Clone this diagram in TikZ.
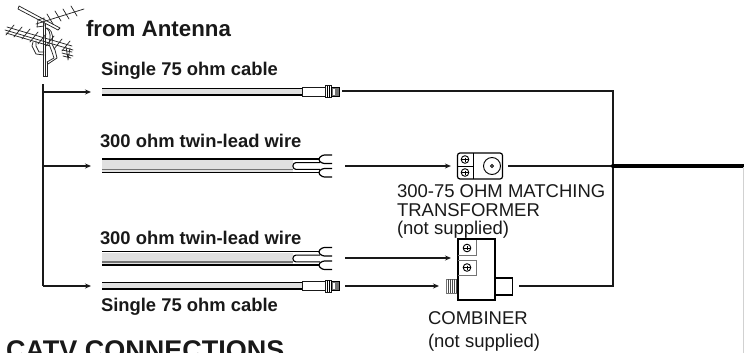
\documentclass[tikz,border=0pt]{standalone}
\usepackage{fontspec}
\setmainfont{Liberation Sans}
\usetikzlibrary{arrows.meta}
\newcommand{\fsize}[1]{\fontsize{#1}{#1}\selectfont}
\tikzset{
  x=1pt,y=-1pt,
  wire/.style={line width=1.3pt,line join=miter,black!90},
  arrowline/.style={wire,-{Stealth[length=6pt,width=5pt]}},
  lbl/.style={anchor=base west,inner sep=0pt,outer sep=0pt,text=black!90},
  ant/.style={line width=.75pt,black!85,line cap=round},
  box/.style={draw=black,line width=1.2pt,fill=white},
  pics/coaxial/.style={code={
    \fill[black!12] (0,-3) rectangle (200,3);
    \draw[line width=1pt,black] (0,-3.2) -- (200,-3.2);
    \draw[line width=2pt,black] (0,3) -- (200,3);
    \draw[line width=1pt,black!90,fill=white] (200,-4.5) rectangle (223,4.5);
    \draw[line width=.9pt,black!90,fill=white] (223,-6) rectangle (229,6);
    \draw[line width=.5pt] (225,-6) -- (225,6) (227,-6) -- (227,6);
    \draw[line width=1pt,black,fill=black!55] (229,-4.5) rectangle (237,4.5);
    \fill[white] (231,-3) rectangle (233,3);
  }},
  pics/twinlead/.style={code={
    \fill[black!12] (0,-6) rectangle (191,6);
    \draw[line width=1.2pt,black] (0,-7) -- (217,-7);
    \draw[line width=1.8pt,black!55] (0,3.4) -- (191,3.4);
    \draw[line width=1.8pt,black] (0,6.5) -- (217,6.5);
    \draw[line width=1.1pt,black,fill=white,rounded corners=3pt] (218,-3.4) -- (191,-3.4) -- (191,3.4) -- (218,3.4);
    \draw[line width=1.2pt,black,rounded corners=2.5pt] (230,-11) -- (220,-11) -- (216,-6.5) -- (220,-2.5) -- (230,-2.5);
    \draw[line width=1.2pt,black,rounded corners=2.5pt] (230,2.5) -- (220,2.5) -- (216,6.5) -- (220,11) -- (230,11);
  }},
  pics/screw/.style={code={
    \draw[line width=.9pt,black,fill=white] (0,0) circle (3.8);
    \draw[line width=.9pt,black] (-3.8,0) -- (3.8,0) (0,-2) -- (0,2);
  }},
}
\begin{document}
\begin{tikzpicture}
\useasboundingbox (0,0) rectangle (744,353);
\clip (0,0) rectangle (744,353);
\coordinate (trunkTop) at (43,84);
\coordinate (j1) at (43,92);
\coordinate (j2) at (43,166);
\coordinate (j4) at (43,286);
\coordinate (a1) at (91,92);
\coordinate (a2) at (91,166);
\coordinate (a4) at (91,286);
\coordinate (c1) at (342,91);
\coordinate (bus1) at (613,91);
\coordinate (busMid) at (613,166);
\coordinate (bus2) at (613,286);
\coordinate (t2s) at (345,166);
\coordinate (t3s) at (345,258);
\coordinate (t3e) at (451,258);
\coordinate (t4s) at (345,286);
\coordinate (t4e) at (439,286);
\coordinate (x2s) at (508,166);
\coordinate (c2s) at (519,286);
\coordinate (tvEnd) at (744,166);
\coordinate (edgeTop) at (743,167);
\coordinate (edgeBot) at (743,353);

% antenna
\draw[ant,line width=1pt,fill=white] (43,23) -- (43,76) -- (47,76) -- (47,62);
\draw[ant,line width=1pt] (45.5,24) -- (45.5,76);
\draw[ant] (19,6) -- (60,28) (18,9) -- (58,30) (19,6) -- (18,9) (60,28) -- (58,30);
\draw[ant] (36,24) -- (84,9);
\foreach \x/\y in {50/19,58/16,66/14,74/11}{\draw[ant] (\x-3,\y-5) -- (\x+3,\y+5);}
\draw[ant] (38,20) -- (44,18) -- (44,26) -- (37,27) -- cycle;
\draw[ant] (7,27) -- (72,46) (5,30) -- (73,50) (6,33) -- (50,46);
\foreach \x/\y in {10/30,18/32,26/34,34/37,42/39,50/41,58/44,66/46}{\draw[ant] (\x+4,\y-5) -- (\x-4,\y+5);}
\draw[ant] (33,42) -- (32,46) -- (36,54) -- (44,55) (36,41) -- (36,46) -- (39,52) -- (44,52);
\draw[ant] (46,28) .. controls (52,32) and (50,38) .. (49,44) -- (52,52) -- (54,58) -- (47,62);
\draw[ant] (47,28) .. controls (55,32) and (52,40) .. (52,44) -- (55,50) -- (57,58) -- (48,64);
\draw[ant] (62,50) -- (72,52) (62,53) -- (73,56) (63,56) -- (71,58) (66,47) -- (68,59) (70,48) -- (68,60);

% texts
\node[lbl] (tAnt) at (86,37) {\fsize{22.3}\bfseries from Antenna};
\node[lbl] (tS1) at (101,75) {\fsize{18.4}\bfseries Single 75 ohm cable};
\node[lbl] (tT1) at (100,147) {\fsize{18.4}\bfseries 300 ohm twin-lead wire};
\node[lbl] (tT2) at (100,244) {\fsize{18.4}\bfseries 300 ohm twin-lead wire};
\node[lbl] (tS2) at (101,311) {\fsize{18.4}\bfseries Single 75 ohm cable};
\node[lbl] (tM1) at (397,197) {\fsize{18.5}300-75 OHM MATCHING};
\node[lbl] (tM2) at (397,216) {\fsize{18.5}TRANSFORMER};
\node[lbl] (tM3) at (397,234) {\fsize{18.5}(not supplied)};
\node[lbl] (tC1) at (428,324) {\fsize{18.5}COMBINER};
\node[lbl] (tC2) at (428,347) {\fsize{18.5}(not supplied)};
\node[lbl] (tCatv) at (6,359.5) {\fsize{27}\bfseries CATV CONNECTIONS};

% cables
\pic at (102,91.5) {coaxial};
\pic at (102,286) {coaxial};
\pic at (102,166) {twinlead};
\pic at (102,258.5) {twinlead};

% matching transformer
\node[draw=black,line width=1.2pt,rounded corners=2.5pt,minimum width=45pt,minimum height=26pt,inner sep=0pt] (xfmr) at (480,166) {};
\draw[line width=1pt,black] (473,153) -- (473,179) (457.5,166) -- (473,166);
\pic at (465,159.5) {screw};
\pic at (465,172.5) {screw};
\draw[line width=.9pt,black] (492,166) circle (8.5);
\draw[line width=.9pt,black] (492,166) circle (1.5);

% combiner
\node[draw=black!55,line width=.8pt,fill=white,minimum width=12pt,minimum height=14pt,inner sep=0pt] (cl) at (452,286) {};
\foreach \x in {448.5,450.5,452.5,454.5,456.5}{\draw[line width=.7pt,black!70] (\x,279) -- (\x,293);}
\node[box,minimum width=19pt,minimum height=17pt,inner sep=0pt] (cr) at (503,286.5) {};
\node[box,minimum width=37pt,minimum height=61pt,inner sep=0pt] (comb) at (476.5,269.5) {};
\draw[line width=.9pt,black!55] (458,255) -- (476.5,255) -- (476.5,240);
\draw[line width=.9pt,black!55] (458,260) -- (476.5,260) -- (476.5,275) -- (458,275);
\pic at (467,248) {screw};
\pic at (467,267.5) {screw};

% connectors
\draw[wire] (trunkTop) -- (j4);
\draw[arrowline] (j4) -- (a4);
\draw[arrowline] (j1) -- (a1);
\draw[arrowline] (j2) -- (a2);
\draw[wire] (c1) -- (bus1) -- (bus2) -- (c2s);
\draw[arrowline,shorten >=6pt] (t2s) -- (xfmr.west);
\draw[arrowline] (t3s) -- (t3e);
\draw[arrowline] (t4s) -- (t4e);
\draw[wire] (x2s) -- (busMid);
\draw[line width=4.2pt,black,line cap=round] (busMid) -- (tvEnd);
\draw[line width=.6pt,black!18] (edgeTop) -- (edgeBot);
\end{tikzpicture}
\end{document}
